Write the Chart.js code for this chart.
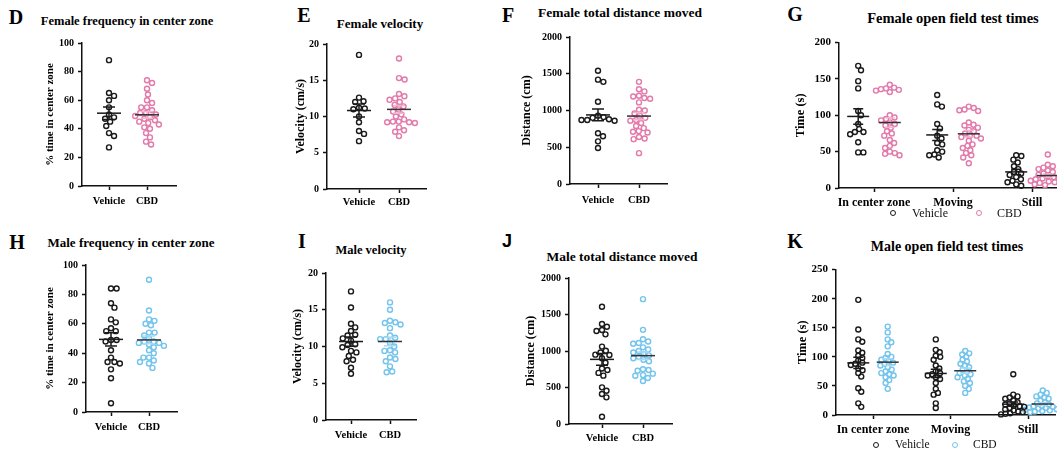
<!DOCTYPE html>
<html><head><meta charset="utf-8">
<script src="https://cdn.jsdelivr.net/npm/chart.js@4.4.1/dist/chart.umd.min.js"></script>
<style>
html,body{margin:0;padding:0;background:#fff;width:1057px;height:456px;overflow:hidden;position:relative;}
canvas{position:absolute;}
.t{position:absolute;font-family:"Liberation Serif","Times New Roman",serif;font-weight:bold;color:#000;white-space:nowrap;transform:translate(-50%,-50%);line-height:1;}
.lt{position:absolute;font-family:"Liberation Serif","Times New Roman",serif;color:#111;white-space:nowrap;transform:translateY(-50%);line-height:1;}
.mk{position:absolute;width:4px;height:4px;border-radius:50%;transform:translate(-50%,-50%);border:1.4px solid #000;}
</style></head><body>
<script>
// ---------- data ----------
const twoCats = ['Vehicle', 'CBD'];
const ofCats = ['In center zone', 'Moving', 'Still'];

const dVehicle = [88, 65, 63, 60, 55, 50, 48, 47, 45, 42, 37, 35, 27];
const dCBD = [74, 72, 68, 64, 60, 58, 55, 55, 53, 51, 51, 50, 49, 48, 47, 46, 45, 44, 43, 41, 40, 37, 34, 31, 29];

const eVehicle = [18.5, 12.6, 12.1, 12.0, 11.2, 11.0, 11.1, 10.0, 9.2, 8.0, 7.6, 6.6];
const eCBD = [18.0, 15.3, 15.1, 13.1, 12.8, 12.5, 12.3, 12.0, 11.6, 11.4, 11.0, 10.7, 10.3, 10.0, 9.6, 9.3, 9.2, 9.2, 9.3, 9.1, 8.5, 8.1, 7.9, 7.3];

const fVehicle = [1540, 1420, 1390, 1120, 930, 910, 900, 880, 870, 870, 860, 690, 650, 580, 490];
const fCBD = [1390, 1290, 1260, 1200, 1190, 1170, 1160, 1110, 1010, 1000, 960, 930, 900, 870, 860, 830, 790, 760, 720, 710, 700, 640, 620, 610, 420];

const gVehicleCenter = [168, 162, 147, 137, 106, 100, 88, 81, 77, 77, 74, 63, 49, 49];
const gCBDCenter = [142, 138, 137, 136, 135, 134, 132, 100, 97, 95, 93, 90, 88, 86, 83, 78, 75, 72, 66, 62, 58, 55, 50, 48, 47, 45];
const gVehicleMoving = [128, 115, 112, 88, 82, 72, 68, 62, 60, 52, 50, 46, 45, 42];
const gCBDMoving = [112, 110, 108, 107, 106, 90, 87, 86, 83, 80, 78, 75, 72, 72, 70, 68, 65, 60, 58, 55, 52, 48, 45, 42, 34];
const gVehicleStill = [45, 44, 39, 35, 30, 26, 22, 20, 18, 15, 12, 10, 8, 5, 3];
const gCBDStill = [46, 32, 30, 28, 26, 24, 22, 20, 18, 16, 15, 14, 13, 12, 11, 10, 9, 8, 7, 6, 5, 4];

const hVehicle = [84, 84, 74, 71, 63, 61, 57, 55, 55, 49, 49, 48, 42, 37, 34, 34, 33, 29, 23, 6];
const hCBD = [90, 69, 63, 62, 60, 59, 54, 54, 52, 50, 48, 48, 47, 47, 46, 45, 44, 42, 40, 37, 37, 35, 34, 33, 30];

const iVehicle = [17.5, 15.3, 13.1, 12.6, 12.1, 11.6, 11.5, 11.1, 10.8, 10.3, 10.2, 9.9, 9.4, 9.2, 8.7, 8.2, 8.0, 7.1, 6.3];
const iCBD = [16.0, 15.0, 13.5, 13.3, 13.2, 13.0, 12.5, 11.5, 11.2, 11.0, 11.0, 10.5, 10.0, 9.5, 9.4, 9.2, 8.5, 8.3, 8.0, 7.3, 6.6, 6.5];

const jVehicle = [1607, 1370, 1333, 1288, 1274, 1228, 1060, 1004, 980, 950, 945, 900, 840, 760, 740, 700, 662, 502, 456, 411, 365, 100];
const jCBD = [1710, 1290, 1160, 1130, 1110, 1100, 1050, 1020, 1000, 980, 960, 940, 920, 900, 880, 860, 750, 740, 730, 690, 670, 660, 630, 590];

const kVehicleCenter = [198, 147, 130, 126, 111, 107, 102, 98, 94, 90, 88, 86, 80, 77, 72, 66, 46, 40, 20, 14];
const kCBDCenter = [152, 142, 130, 125, 118, 105, 100, 98, 95, 92, 90, 88, 85, 82, 78, 75, 72, 70, 68, 65, 60, 55, 45];
const kVehicleMoving = [130, 112, 108, 102, 100, 95, 85, 80, 75, 72, 70, 68, 65, 62, 55, 45, 38, 35, 20, 12];
const kCBDMoving = [110, 106, 104, 100, 95, 92, 88, 85, 82, 78, 75, 72, 70, 68, 65, 62, 58, 55, 50, 45, 38];
const kVehicleStill = [70, 35, 32, 30, 28, 25, 22, 20, 18, 16, 15, 14, 12, 10, 8, 6, 5, 3, 2, 1];
const kCBDStill = [42, 38, 35, 32, 30, 28, 25, 22, 20, 18, 16, 15, 14, 13, 12, 11, 10, 9, 8, 7, 6, 5];

// ---------- styles ----------
const FONT = "'Liberation Serif', 'Times New Roman', serif";
const BLACK = '#1a1a1a', PINK = '#e27aab', BLUE = '#74c4ec';
const PINK_SEM = '#f2b3cf', BLUE_SEM = '#a8dbf4', MEAN_CBD = '#333333';

// ---------- helpers ----------
function swarm(values, pyu, D) {
  const idx = values.map((v, i) => i).sort((a, b) => values[b] - values[a]);
  const placed = [], out = new Array(values.length);
  idx.forEach(i => {
    const yp = values[i] * pyu;
    const bounds = [];
    placed.forEach(p => {
      const dy = Math.abs(p.y - yp);
      if (dy < D) { const dx = Math.sqrt(D * D - dy * dy); bounds.push([p.x - dx, p.x + dx]); }
    });
    const cands = [0];
    bounds.forEach(b => cands.push(b[0], b[1]));
    cands.sort((a, b) => (Math.abs(a) - Math.abs(b)) || (b - a));
    let best = 0;
    for (const c of cands) {
      if (bounds.every(b => c <= b[0] + 1e-6 || c >= b[1] - 1e-6)) { best = c; break; }
    }
    placed.push({x: best, y: yp});
    out[i] = best;
  });
  return out;
}

const meanSem = {
  id: 'meanSem',
  afterDatasetsDraw(chart, args, opts) {
    const {ctx, scales: {x, y}} = chart;
    chart.data.datasets.forEach(ds => {
      (ds.groups || []).forEach(g => {
        const n = g.values.length;
        const m = g.values.reduce((a, b) => a + b, 0) / n;
        const sd = Math.sqrt(g.values.reduce((a, b) => a + (b - m) * (b - m), 0) / (n - 1));
        const se = sd / Math.sqrt(n);
        const px = x.getPixelForValue(g.x);
        const yHi = y.getPixelForValue(m + se), yLo = y.getPixelForValue(m - se), yM = y.getPixelForValue(m);
        ctx.save();
        ctx.lineWidth = 1.5;
        ctx.strokeStyle = ds.semColor;
        ctx.beginPath();
        ctx.moveTo(px, yHi); ctx.lineTo(px, yLo);
        ctx.moveTo(px - opts.semHalf, yHi); ctx.lineTo(px + opts.semHalf, yHi);
        ctx.moveTo(px - opts.semHalf, yLo); ctx.lineTo(px + opts.semHalf, yLo);
        ctx.stroke();
        ctx.strokeStyle = ds.meanColor;
        ctx.beginPath();
        ctx.moveTo(px - opts.meanHalf, yM); ctx.lineTo(px + opts.meanHalf, yM);
        ctx.stroke();
        ctx.restore();
      });
    });
  }
};

function twoSeries(veh, cbd, cbdColor, cbdSem) {
  return [
    {label: 'Vehicle', color: BLACK, mean: BLACK, sem: BLACK, xs: [0], groups: [veh]},
    {label: 'CBD', color: cbdColor, mean: MEAN_CBD, sem: cbdSem, xs: [1], groups: [cbd]}
  ];
}
function threeSeries(veh, cbd, cbdColor, cbdSem, off) {
  return [
    {label: 'Vehicle', color: BLACK, mean: BLACK, sem: BLACK, xs: [-off, 1 - off, 2 - off], groups: veh},
    {label: 'CBD', color: cbdColor, mean: MEAN_CBD, sem: cbdSem, xs: [off, 1 + off, 2 + off], groups: cbd}
  ];
}

function build(p) {
  const padTop = 10, padRight = 6, xH = 24;
  const top = p.ct - padTop;
  const W = p.cr + padRight - p.left, H = p.cb + xH - top;
  const cv = document.createElement('canvas');
  cv.width = W; cv.height = H;
  cv.style.left = p.left + 'px'; cv.style.top = top + 'px';
  cv.style.width = W + 'px'; cv.style.height = H + 'px';
  document.body.appendChild(cv);
  const unit = p.p1 - p.p0;
  const xmin = (p.cl - p.p0) / unit, xmax = (p.cr - p.p0) / unit;
  const pyu = (p.cb - p.ct) / p.ymax;
  const datasets = p.series.map(s => {
    const pts = [], groups = [];
    s.groups.forEach((vals, gi) => {
      const gx = s.xs[gi];
      const offs = swarm(vals, pyu, p.sw);
      vals.forEach((v, k) => pts.push({x: gx + offs[k] / unit, y: v}));
      groups.push({x: gx, values: vals});
    });
    return {label: s.label, data: pts, borderColor: s.color, backgroundColor: 'rgba(0,0,0,0)',
      pointRadius: 2.5, pointBorderWidth: 1.4, pointHoverRadius: 2.5, clip: false,
      groups, meanColor: s.mean, semColor: s.sem};
  });
  const grid = {display: true, drawOnChartArea: false, drawTicks: true, tickLength: 4, tickWidth: 1.5, tickColor: '#111'};
  const border = {display: true, color: '#111', width: 1.5};
  new Chart(cv, {
    type: 'scatter',
    data: {datasets},
    options: {
      responsive: false, animation: false, events: [], devicePixelRatio: 1,
      layout: {padding: {left: 0, top: padTop, right: padRight, bottom: 0}},
      plugins: {legend: {display: false}, tooltip: {enabled: false}, meanSem: {meanHalf: p.mh, semHalf: p.sh}},
      scales: {
        x: {type: 'linear', min: xmin, max: xmax,
          afterFit: s => { s.height = xH; },
          afterBuildTicks: s => { s.ticks = p.cats.map((c, i) => ({value: i})); },
          ticks: {callback: v => p.cats[Math.round(v)], color: '#000', font: {family: FONT, weight: 'bold', size: p.cts},
            padding: p.lp, maxRotation: 0, autoSkip: false},
          grid, border},
        y: {type: 'linear', min: 0, max: p.ymax,
          afterFit: s => { s.width = p.cl - p.left; },
          ticks: {stepSize: p.step, callback: v => String(v), color: '#000', font: {family: FONT, weight: 'bold', size: p.tks}, padding: 4},
          title: {display: true, text: p.ytitle, color: '#000', font: {family: FONT, weight: 'bold', size: p.yts}, padding: 0},
          grid, border}
      }
    },
    plugins: [meanSem]
  });
}

function text(cls, str, x, y, size, family) {
  const d = document.createElement('div');
  d.className = cls; d.textContent = str;
  d.style.left = x + 'px'; d.style.top = y + 'px'; d.style.fontSize = size + 'px';
  if (family) d.style.fontFamily = family;
  document.body.appendChild(d);
}
function legendItem(x, y, color, label, tx, size) {
  const m = document.createElement('div');
  m.className = 'mk'; m.style.left = x + 'px'; m.style.top = y + 'px'; m.style.borderColor = color;
  document.body.appendChild(m);
  text('lt', label, tx, y, size);
}

const panels = [
  {left: 44, cl: 82, ct: 43, cr: 176, cb: 186, p0: 109, p1: 147, ymax: 100, step: 20, ytitle: '% time in center zone', yts: 11, tks: 10, cts: 10.5, lp: 5.4, cats: twoCats, mh: 12, sh: 6, sw: 5.8, series: twoSeries(dVehicle, dCBD, PINK, PINK_SEM)},
  {left: 294, cl: 327, ct: 44, cr: 426, cb: 189, p0: 359, p1: 399, ymax: 20, step: 5, ytitle: 'Velocity (cm/s)', yts: 12, tks: 10, cts: 10.5, lp: 3.4, cats: twoCats, mh: 12, sh: 6, sw: 5.8, series: twoSeries(eVehicle, eCBD, PINK, PINK_SEM)},
  {left: 520, cl: 570, ct: 37, cr: 667, cb: 184, p0: 598, p1: 639, ymax: 2000, step: 500, ytitle: 'Distance (cm)', yts: 12, tks: 10, cts: 10.5, lp: 5.7, cats: twoCats, mh: 12, sh: 6, sw: 5.8, series: twoSeries(fVehicle, fCBD, PINK, PINK_SEM)},
  {left: 793, cl: 839, ct: 42, cr: 1075, cb: 188, p0: 874, p1: 953, ymax: 200, step: 50, ytitle: 'Time (s)', yts: 12.5, tks: 11, cts: 12, lp: 3.5, cats: ofCats, mh: 11, sh: 5, sw: 5.2,
    series: threeSeries([gVehicleCenter, gVehicleMoving, gVehicleStill], [gCBDCenter, gCBDMoving, gCBDStill], PINK, PINK_SEM, 0.2)},
  {left: 44, cl: 86, ct: 265, cr: 177, cb: 412, p0: 111, p1: 149, ymax: 100, step: 20, ytitle: '% time in center zone', yts: 11, tks: 10, cts: 10.5, lp: 5, cats: twoCats, mh: 12, sh: 6, sw: 5.6, series: twoSeries(hVehicle, hCBD, BLUE, BLUE_SEM)},
  {left: 291, cl: 326, ct: 273, cr: 416, cb: 420, p0: 351, p1: 390, ymax: 20, step: 5, ytitle: 'Velocity (cm/s)', yts: 12, tks: 10, cts: 10.5, lp: 5.4, cats: twoCats, mh: 12, sh: 6, sw: 5.6, series: twoSeries(iVehicle, iCBD, BLUE, BLUE_SEM)},
  {left: 524, cl: 569, ct: 278, cr: 672, cb: 424, p0: 602, p1: 643, ymax: 2000, step: 500, ytitle: 'Distance (cm)', yts: 12, tks: 10, cts: 10.5, lp: 4, cats: twoCats, mh: 12, sh: 6, sw: 5.6, series: twoSeries(jVehicle, jCBD, BLUE, BLUE_SEM)},
  {left: 795, cl: 836, ct: 269, cr: 1055, cb: 415, p0: 873, p1: 950.5, ymax: 250, step: 50, ytitle: 'Time (s)', yts: 12.5, tks: 11, cts: 12, lp: 3.8, cats: ofCats, mh: 11, sh: 5, sw: 4.6,
    series: threeSeries([kVehicleCenter, kVehicleMoving, kVehicleStill], [kCBDCenter, kCBDMoving, kCBDStill], BLUE, BLUE_SEM, 0.19)}
];
panels.forEach(build);

// panel letters
text('t', 'D', 16, 17, 20); text('t', 'E', 304, 15, 20); text('t', 'F', 508, 15, 20); text('t', 'G', 795, 14, 20);
text('t', 'H', 17, 242, 20); text('t', 'I', 302, 241, 20); text('t', 'J', 507, 241, 18, "'Liberation Sans', Arial, sans-serif"); text('t', 'K', 795, 241, 20);
// titles
text('t', 'Female frequency in center zone', 127, 21, 12.5);
text('t', 'Female velocity', 380, 23, 13);
text('t', 'Female total distance moved', 620, 13, 13.5);
text('t', 'Female open field test times', 953, 18, 14.5);
text('t', 'Male frequency in center zone', 131, 242, 13);
text('t', 'Male velocity', 371, 250, 12.5);
text('t', 'Male total distance moved', 622, 257, 13.5);
text('t', 'Male open field test times', 947, 247, 14);
// legends
legendItem(893, 213, BLACK, 'Vehicle', 912, 12);
legendItem(979, 213, PINK, 'CBD', 997, 12);
legendItem(876, 445, BLACK, 'Vehicle', 895, 11.5);
legendItem(955, 445, BLUE, 'CBD', 973, 11.5);
</script>
</body></html>
